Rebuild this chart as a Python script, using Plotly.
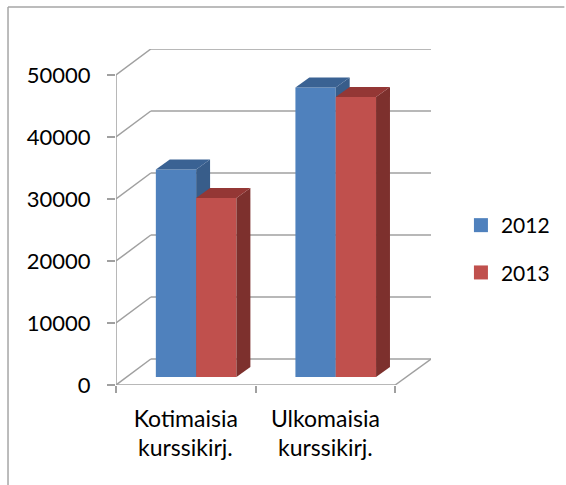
import plotly.graph_objects as go

categories = ["Kotimaisia", "Ulkomaisia"]
second_line = ["kurssikirj.", "kurssikirj."]
years = ["2012", "2013"]
values_2012 = [33470, 46690]
values_2013 = [28870, 45160]
y_ticks = [0, 10000, 20000, 30000, 40000, 50000]

FONT = "Lato"
GRID = "#a0a0a0"
W, H = 566, 485
L, R, T, B = 115.5, 432.0, 49.0, 385.0
PX_X = 140.25                # px per category
PX_Y = 310.0 / 50000         # px per value unit
ux = lambda px: px / PX_X
uy = lambda px: px / PX_Y
x0 = -0.5
xr = [x0, x0 + ux(R - L)]
yr = [0, uy(B - T)]
wall_dx, wall_dy = ux(35), uy(26)
bar_w = ux(40.5)
bar_shift = ux(10.4)
base = uy(8)
d_dx, d_dy = ux(14), uy(10)

fig = go.Figure()
shapes = []
def line(x1, y1, x2, y2, xref="x", yref="y", color=GRID, width=1.5, layer="below"):
    shapes.append(dict(type="line", x0=x1, y0=y1, x1=x2, y1=y2, xref=xref, yref=yref,
                       layer=layer, line=dict(color=color, width=width)))

# walls and floor
for v in y_ticks:
    line(x0, v, x0 + wall_dx, v + wall_dy)
    line(x0 + wall_dx, v + wall_dy, xr[1], v + wall_dy)
line(x0, 0, x0, y_ticks[-1])
line(x0, 0, 1.5, 0)
line(1.5, 0, xr[1], wall_dy)

# outer frame of the chart (paper coordinates follow the plot area)
px = lambda p: (p - L) / (R - L)
py = lambda p: (B - p) / (B - T)
line(px(7), py(H), px(7), py(7), "paper", "paper", "#a6a6a6", 1.5, "above")
line(px(7), py(7), px(W), py(7), "paper", "paper", "#a6a6a6", 1.5, "above")

series = [
    (years[0], values_2012, -bar_w / 2, "#4f81bd", "#385d8a", "#3a6293", "x", "y"),
    (years[1], values_2013, bar_w / 2, "#c0504d", "#7d302d", "#943735", "x2", "y2"),
]
for name, vals, off, front, side, top, xa, ya in series:
    xs = [i + bar_shift + off for i in range(len(vals))]
    fig.add_trace(go.Bar(x=xs, y=vals, base=base, width=bar_w,
                         marker=dict(color=front, line=dict(width=0)), name=name,
                         xaxis=xa, yaxis=ya, showlegend=False, hoverinfo="skip"))
    for cx, v in zip(xs, vals):
        l, r = cx - bar_w / 2, cx + bar_w / 2
        h = v + base
        fig.add_trace(go.Scatter(x=[r, r + d_dx, r + d_dx, r, r],
                                 y=[base, base + d_dy, h + d_dy, h, base],
                                 fill="toself", fillcolor=side, mode="lines", line=dict(width=0),
                                 xaxis=xa, yaxis=ya, showlegend=False, hoverinfo="skip"))
        fig.add_trace(go.Scatter(x=[l, l + d_dx, r + d_dx, r, l],
                                 y=[h, h + d_dy, h + d_dy, h, h],
                                 fill="toself", fillcolor=top, mode="lines", line=dict(width=0),
                                 xaxis=xa, yaxis=ya, showlegend=False, hoverinfo="skip"))

# legend entries
for name, _, _, front, *_ in series:
    fig.add_trace(go.Scatter(x=[None], y=[None], mode="markers", name=name, legendgroup=name,
                             marker=dict(symbol="square", size=14, color=front)))

for i, t in enumerate(second_line):
    fig.add_annotation(x=i, y=-(447.5 - B) / (B - T), xref="x", yref="paper", text=t, showarrow=False,
                       xanchor="center", yanchor="middle",
                       font=dict(family=FONT, size=23, color="#000000"))

fig.update_layout(
    width=W, height=H, autosize=False,
    margin=dict(l=L, r=W - R, t=T, b=H - B, pad=0),
    paper_bgcolor="#ffffff", plot_bgcolor="rgba(0,0,0,0)",
    showlegend=True, barmode="overlay",
    font=dict(family=FONT, color="#000000"),
    shapes=shapes,
    xaxis=dict(range=xr, tickmode="array", tickvals=[0, 1], ticktext=categories, ticks="",
               showgrid=False, zeroline=False, showline=False,
               tickfont=dict(family=FONT, size=23), ticklabelstandoff=18,
               minor=dict(tickmode="array", tickvals=[-0.5, 0.5, 1.5], ticks="outside",
                          ticklen=7, tickcolor=GRID, tickwidth=1.5, showgrid=False)),
    yaxis=dict(range=yr, tickmode="array", tickvals=y_ticks, ticktext=[str(v) for v in y_ticks],
               ticks="outside", ticklen=8,
               tickcolor=GRID, tickwidth=1.5, showgrid=False, zeroline=False, showline=False,
               tickfont=dict(family=FONT, size=22), ticklabelstandoff=12),
    xaxis2=dict(visible=False, overlaying="x", range=xr),
    yaxis2=dict(visible=False, overlaying="y", range=yr),
    legend=dict(x=(493 - 20 - L) / (R - L), y=(B - 249) / (B - T), xanchor="left", yanchor="middle",
                font=dict(family=FONT, size=21), tracegroupgap=17, indentation=-12,
                bgcolor="rgba(0,0,0,0)"),
)
fig.write_html("out.html", config={"displayModeBar": False},
               post_script="document.body.style.margin='0';")
